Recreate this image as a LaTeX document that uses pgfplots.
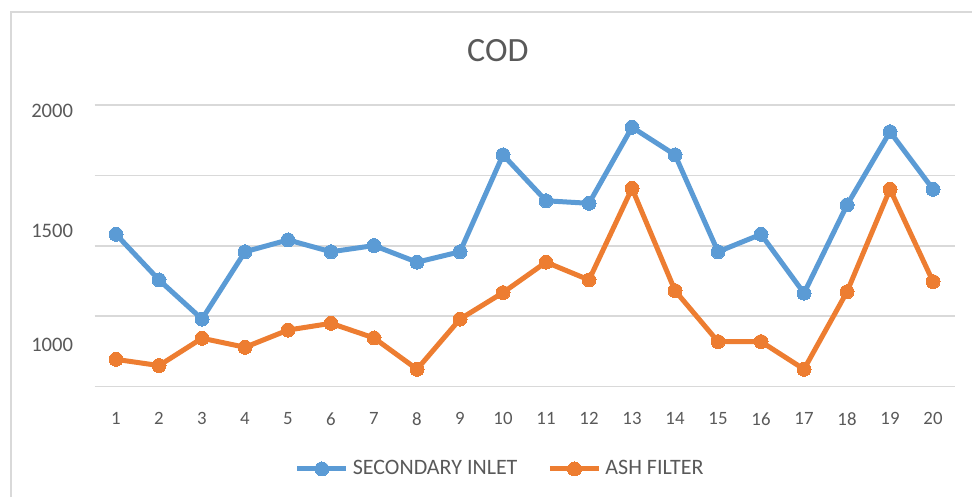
\documentclass[border=0pt]{standalone}
\usepackage{fontspec}
\setmainfont{Carlito}
\usepackage{pgfplots}
\pgfplotsset{compat=1.18}
\definecolor{siblue}{HTML}{5B9BD5}
\definecolor{aforange}{HTML}{ED7D31}
\definecolor{gridgray}{HTML}{D9D9D9}
\definecolor{txtgray}{HTML}{595959}

\begin{document}
\begin{tikzpicture}
% page = 972 x 497 px, 1 px = 0.5pt
\path[use as bounding box] (0,0) rectangle (486pt,248.5pt);
\draw[gridgray,line width=0.8pt] (5.5pt,0) -- (5.5pt,242.5pt) -- (486pt,242.5pt);
\begin{axis}[
  at={(47.25pt,55.15pt)},anchor=south west,
  scale only axis,width=430pt,height=140.85pt,
  xmin=0.5,xmax=20.5,ymin=1000,ymax=2000,
  xtick={1,...,20},
  ytick={1000,1250,1500,1750,2000},yticklabels={},
  extra y ticks={1149,1553,1979},
  extra y tick labels={1000,1500,2000},
  extra y tick style={grid=none},
  axis line style={draw=none},
  major tick length=0pt,
  ymajorgrids,
  major grid style={gridgray,line width=0.8pt},
  /pgf/number format/assume math mode=true,
  xticklabel style={font=\fontsize{9.4}{11}\selectfont,text=txtgray,yshift=-9.5pt},
  yticklabel style={font=\fontsize{10.3}{12}\selectfont,text=txtgray,xshift=-7.2pt},
  title={COD},
  title style={at={(0.469,1.149)},anchor=center,font=\fontsize{17}{20}\selectfont,text=txtgray},
  legend columns=2,
  legend style={at={(0.473,-0.292)},anchor=center,draw=none,fill=none,
    font=\fontsize{11}{13}\selectfont,text=txtgray,
    /tikz/every even column/.append style={column sep=13pt}},
  legend image code/.code={\draw[mark repeat=2,mark phase=2] plot coordinates {(0cm,0cm)(0.43cm,0cm)(0.86cm,0cm)};},
]
\addplot[siblue,line width=2.5pt,mark=*,mark size=3.5pt,mark options={fill=siblue,draw=siblue,line width=0pt}] coordinates {
(1,1541) (2,1379) (3,1240) (4,1479) (5,1521) (6,1479) (7,1501) (8,1442) (9,1479) (10,1823)
(11,1660) (12,1651) (13,1921) (14,1823) (15,1479) (16,1541) (17,1332) (18,1645) (19,1905) (20,1701)};
\addlegendentry{SECONDARY INLET}
\addplot[aforange,line width=2.5pt,mark=*,mark size=3.5pt,mark options={fill=aforange,draw=aforange,line width=0pt}] coordinates {
(1,1097) (2,1075) (3,1172) (4,1140) (5,1201) (6,1225) (7,1173) (8,1062) (9,1240) (10,1334)
(11,1442) (12,1379) (13,1704) (14,1341) (15,1160) (16,1160) (17,1062) (18,1337) (19,1701) (20,1373)};
\addlegendentry{ASH FILTER}
\end{axis}
\end{tikzpicture}
\end{document}
